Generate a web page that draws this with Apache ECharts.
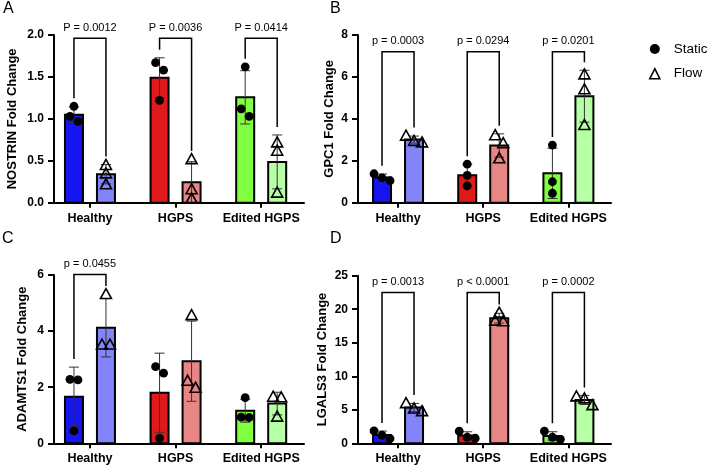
<!DOCTYPE html>
<html>
<head>
<meta charset="utf-8">
<script src="https://cdn.jsdelivr.net/npm/echarts@6/dist/echarts.min.js"></script>
<style>
html, body { margin: 0; padding: 0; background: #fff; }
#main { width: 708px; height: 469px; }
</style>
</head>
<body>
<div id="main"></div>
<script>
// 数据：每组三个重复
var categories = ['Healthy', 'HGPS', 'Edited HGPS'];

var nostrinStatic = [[1.15, 1.03, 0.97], [1.67, 1.58, 1.22], [1.62, 1.12, 1.03]];
var nostrinFlow = [[0.45, 0.35, 0.22], [0.52, 0.16, 0.05], [0.72, 0.62, 0.12]];
var nostrinP = ['P = 0.0012', 'P = 0.0036', 'P = 0.0414'];
var nostrinBracket = [1.96, 1.96, 1.96];

var gpc1Static = [[1.38, 1.18, 1.05], [1.84, 1.3, 0.8], [2.75, 1.0, 0.45]];
var gpc1Flow = [[3.2, 2.95, 2.88], [3.22, 2.84, 2.12], [6.12, 5.41, 3.71]];
var gpc1P = ['p = 0.0003', 'p = 0.0294', 'p = 0.0201'];
var gpc1Bracket = [7.2, 7.2, 7.2];

var adamts1Static = [[2.28, 2.26, 0.44], [2.73, 2.5, 0.18], [1.63, 0.93, 0.92]];
var adamts1Flow = [[5.32, 3.52, 3.52], [4.57, 2.23, 1.98], [1.66, 1.64, 0.95]];
var adamts1P = ['p = 0.0455'];
var adamts1Bracket = [6.02];

var lgals3Static = [[1.85, 1.2, 0.7], [1.8, 0.9, 0.75], [1.8, 0.9, 0.6]];
var lgals3Flow = [[6.0, 5.2, 4.8], [19.5, 18.3, 18.2], [7.0, 6.7, 5.7]];
var lgals3P = ['p = 0.0013', 'p < 0.0001', 'p = 0.0002'];
var lgals3Bracket = [22.5, 22.5, 22.5];

// 颜色
var staticColors = ['#1515f0', '#e01a1a', '#80ff40'];
var flowColors = ['#8484fa', '#e88585', '#b6ffa4'];

var FONT = '"Liberation Sans", Arial, Helvetica, sans-serif';

function mean(a) {
    var s = 0;
    for (var i = 0; i < a.length; i++) s += a[i];
    return s / a.length;
}
function sd(a) {
    var m = mean(a), s = 0;
    for (var i = 0; i < a.length; i++) s += (a[i] - m) * (a[i] - m);
    return Math.sqrt(s / (a.length - 1));
}

// 点的横向散开
function spread(ys) {
    var idx = ys.map(function (y, k) { return k; }).sort(function (a, b) { return ys[a] - ys[b]; });
    var offs = ys.map(function () { return 0; });
    var cluster = [idx[0]];
    function flush() {
        for (var k = 0; k < cluster.length; k++) {
            offs[cluster[k]] = (k - (cluster.length - 1) / 2) * 8;
        }
    }
    for (var k = 1; k < idx.length; k++) {
        if (ys[idx[k]] - ys[idx[k - 1]] < 8) {
            cluster.push(idx[k]);
        } else {
            flush();
            cluster = [idx[k]];
        }
    }
    flush();
    return offs;
}

function groupSeries(name, p, groups, colors, shift, triangle) {
    return {
        name: name,
        type: 'custom',
        xAxisIndex: p,
        yAxisIndex: p,
        data: groups.map(function (g, i) { return [i, mean(g)]; }),
        encode: { x: 0, y: 1 },
        renderItem: function (params, api) {
            var i = api.value(0);
            var vals = groups[params.dataIndex];
            var m = mean(vals), s = sd(vals);
            var cx = api.coord([i, 0])[0] + shift;
            var y0 = api.coord([i, 0])[1];
            var ym = api.coord([i, m])[1];
            var yt = api.coord([i, m + s])[1];
            var yb = api.coord([i, m - s])[1];
            var children = [{
                type: 'rect',
                shape: { x: cx - 9, y: ym, width: 18, height: y0 - ym },
                style: { fill: colors[i], stroke: '#000', lineWidth: 2 }
            }, {
                type: 'line',
                shape: { x1: cx - 5, y1: yt, x2: cx + 5, y2: yt },
                style: { stroke: '#333', lineWidth: 1 }
            }, {
                type: 'line',
                shape: { x1: cx, y1: yt, x2: cx, y2: yb },
                style: { stroke: '#333', lineWidth: 1 }
            }, {
                type: 'line',
                shape: { x1: cx - 5, y1: yb, x2: cx + 5, y2: yb },
                style: { stroke: '#333', lineWidth: 1 }
            }];
            var ys = vals.map(function (v) { return api.coord([i, v])[1]; });
            var offs = spread(ys);
            for (var k = 0; k < vals.length; k++) {
                var x = cx + offs[k], y = ys[k];
                if (triangle) {
                    children.push({
                        type: 'polygon',
                        shape: { points: [[x, y - 5.5], [x - 5.5, y + 4.5], [x + 5.5, y + 4.5]] },
                        style: { fill: null, stroke: '#000', lineWidth: 1.6 }
                    });
                } else {
                    children.push({
                        type: 'circle',
                        shape: { cx: x, cy: y, r: 4.4 },
                        style: { fill: '#000' }
                    });
                }
            }
            return { type: 'group', children: children };
        }
    };
}

function bracketSeries(p, labels, tops, stat, flow) {
    return {
        type: 'custom',
        xAxisIndex: p,
        yAxisIndex: p,
        data: tops.map(function (t, i) { return [i, t]; }),
        encode: { x: 0, y: 1 },
        z: 5,
        renderItem: function (params, api) {
            var i = api.value(0);
            var cx = api.coord([i, 0])[0];
            var yTop = api.coord([i, api.value(1)])[1];
            function legEnd(vals) {
                var hi = Math.max(Math.max.apply(null, vals), mean(vals) + sd(vals));
                return api.coord([i, hi])[1] - 8;
            }
            return {
                type: 'group',
                children: [{
                    type: 'polyline',
                    shape: { points: [[cx - 16, legEnd(stat[i])], [cx - 16, yTop], [cx + 16, yTop], [cx + 16, legEnd(flow[i])]] },
                    style: { stroke: '#000', lineWidth: 1.5, fill: null }
                }, {
                    type: 'text',
                    style: {
                        x: cx, y: yTop - 5, text: labels[params.dataIndex],
                        align: 'center', verticalAlign: 'bottom',
                        font: '11px ' + FONT, fill: '#000'
                    }
                }]
            };
        }
    };
}

var panels = [
    { stat: nostrinStatic, flow: nostrinFlow, p: nostrinP, br: nostrinBracket, title: 'NOSTRIN Fold Change', max: 2, step: 0.5, dec: 1,
      grid: { left: 54, top: 35, width: 250, height: 167.7 }, xmin: -0.42, gap: 35 },
    { stat: gpc1Static, flow: gpc1Flow, p: gpc1P, br: gpc1Bracket, title: 'GPC1 Fold Change', max: 8, step: 2, dec: 0,
      grid: { left: 358, top: 35, width: 253, height: 167.7 }, xmin: -0.47, gap: 22 },
    { stat: adamts1Static, flow: adamts1Flow, p: adamts1P, br: adamts1Bracket, title: 'ADAMTS1 Fold Change', max: 6, step: 2, dec: 0,
      grid: { left: 54, top: 275, width: 250, height: 168.3 }, xmin: -0.42, gap: 25 },
    { stat: lgals3Static, flow: lgals3Flow, p: lgals3P, br: lgals3Bracket, title: 'LGALS3 Fold Change', max: 25, step: 5, dec: 0,
      grid: { left: 358, top: 275.7, width: 253, height: 167.6 }, xmin: -0.47, gap: 29 }
];

var grids = [], xAxes = [], yAxes = [], series = [];
panels.forEach(function (pn, k) {
    grids.push(pn.grid);
    xAxes.push({
        type: 'value', gridIndex: k, min: pn.xmin, max: 2.5,
        axisLine: { onZero: false, lineStyle: { color: '#000', width: 2 } },
        axisTick: { customValues: [0, 1, 2], length: 5, lineStyle: { color: '#000', width: 2 } },
        axisLabel: {
            customValues: [0, 1, 2],
            formatter: function (v) { return categories[Math.round(v)]; },
            color: '#000', fontWeight: 'bold', fontSize: 12.5, fontFamily: FONT, margin: 9
        },
        splitLine: { show: false }
    });
    yAxes.push({
        type: 'value', gridIndex: k, min: 0, max: pn.max, interval: pn.step,
        name: pn.title, nameLocation: 'middle', nameGap: pn.gap,
        nameTextStyle: { color: '#000', fontWeight: 'bold', fontSize: 13, fontFamily: FONT },
        axisLine: { show: true, onZero: false, lineStyle: { color: '#000', width: 2 } },
        axisTick: { show: true, length: 6, lineStyle: { color: '#000', width: 2 } },
        axisLabel: {
            color: '#000', fontWeight: 'bold', fontSize: 12, fontFamily: FONT, margin: 10,
            formatter: function (v) { return v.toFixed(pn.dec); }
        },
        splitLine: { show: false }
    });
    series.push(groupSeries('Static', k, pn.stat, staticColors, -16, false));
    series.push(groupSeries('Flow', k, pn.flow, flowColors, 16, true));
    series.push(bracketSeries(k, pn.p, pn.br, pn.stat, pn.flow));
});

var chart = echarts.init(document.getElementById('main'));
chart.setOption({
    animation: false,
    backgroundColor: '#fff',
    title: [
        { text: 'A', left: 3, top: 1 },
        { text: 'B', left: 330, top: 1 },
        { text: 'C', left: 2, top: 231 },
        { text: 'D', left: 330, top: 231 }
    ].map(function (t) {
        t.padding = 0;
        t.textStyle = { fontSize: 16, fontWeight: 'normal', color: '#000', fontFamily: FONT };
        return t;
    }),
    legend: {
        orient: 'vertical', left: 649, top: 42, padding: 0,
        itemWidth: 10, itemHeight: 10, itemGap: 10.7,
        textStyle: { fontSize: 13.5, color: '#000', fontFamily: FONT, padding: [0, 0, 0, 9] },
        data: [
            { name: 'Static', icon: 'circle', itemStyle: { color: '#000' } },
            { name: 'Flow', icon: 'triangle', itemStyle: { color: 'rgba(0,0,0,0)', borderColor: '#000', borderWidth: 1.6 } }
        ]
    },
    grid: grids,
    xAxis: xAxes,
    yAxis: yAxes,
    series: series
});
</script>
</body>
</html>
